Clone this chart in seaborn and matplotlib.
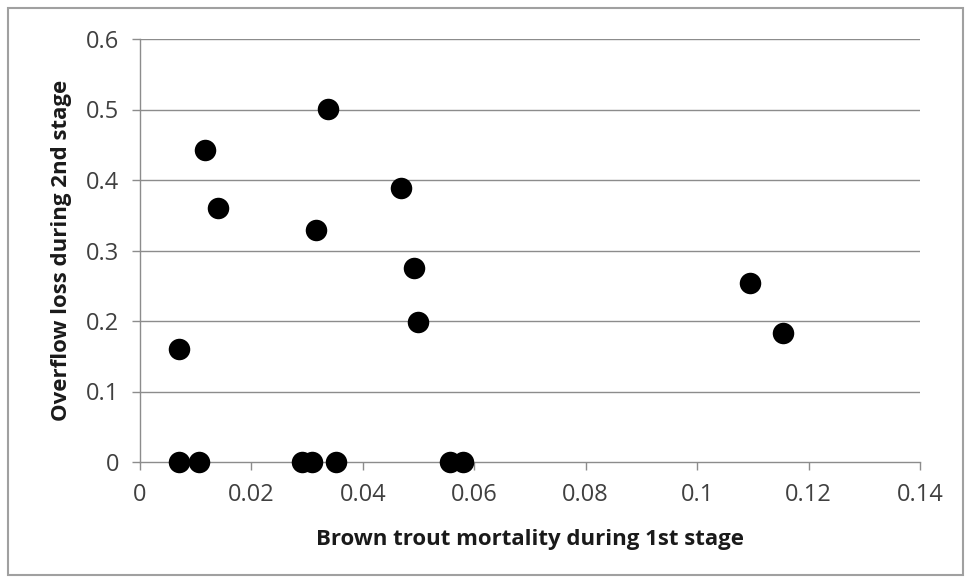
import matplotlib
matplotlib.use('Agg')
import matplotlib.pyplot as plt
import seaborn as sns
import pandas as pd
from matplotlib.patches import Rectangle

# Data
mortality = [0.0070, 0.0117, 0.0140, 0.0316, 0.0337, 0.0468, 0.0492, 0.0499,
             0.1095, 0.1154,
             0.0070, 0.0105, 0.0290, 0.0308, 0.0352, 0.0556, 0.0580]
overflow = [0.160, 0.443, 0.360, 0.329, 0.501, 0.389, 0.275, 0.199,
            0.254, 0.183,
            0.0, 0.0, 0.0, 0.0, 0.0, 0.0, 0.0]

x_ticks = [0, 0.02, 0.04, 0.06, 0.08, 0.1, 0.12, 0.14]
x_labels = ['0', '0.02', '0.04', '0.06', '0.08', '0.1', '0.12', '0.14']
y_ticks = [0, 0.1, 0.2, 0.3, 0.4, 0.5, 0.6]
y_labels = ['0', '0.1', '0.2', '0.3', '0.4', '0.5', '0.6']

df = pd.DataFrame({'mortality': mortality, 'overflow': overflow})

sns.set_style('white')
plt.rcParams['font.family'] = ['Open Sans', 'DejaVu Sans']

fig = plt.figure(figsize=(9.73, 5.82), dpi=100)
ax = fig.add_axes([140 / 973, 1 - 462 / 582, 780 / 973, 423 / 582])

# Frame around the chart area
fig.patches.append(Rectangle((8 / 973, 7 / 582), 955 / 973, 567 / 582,
                             transform=fig.transFigure, fill=False,
                             edgecolor='#a0a0a0', linewidth=1.5))

for y in y_ticks[1:]:
    ax.axhline(y, color='#8c8c8c', linewidth=1, zorder=0)

sns.scatterplot(data=df, x='mortality', y='overflow', ax=ax, s=240,
                color='black', edgecolor='black', linewidth=0, zorder=3,
                clip_on=False)

ax.set_xlim(0, 0.14)
ax.set_ylim(0, 0.6)
ax.set_xticks(x_ticks)
ax.set_xticklabels(x_labels)
ax.set_yticks(y_ticks)
ax.set_yticklabels(y_labels)
ax.tick_params(axis='both', labelsize=17, length=6, width=1, direction='out')
ax.tick_params(axis='x', bottom=True, color='#8c8c8c', labelcolor='#404040',
               pad=9)
ax.tick_params(axis='y', left=True, color='#8c8c8c', labelcolor='#404040',
               pad=9)

for side in ['top', 'right']:
    ax.spines[side].set_visible(False)
for side in ['left', 'bottom']:
    ax.spines[side].set_color('#8c8c8c')
    ax.spines[side].set_linewidth(1)

ax.set_xlabel('Brown trout mortality during 1st stage', fontsize=16,
              fontweight='bold', color='#1a1a1a', labelpad=16)
ax.set_ylabel('Overflow loss during 2nd stage', fontsize=16,
              fontweight='bold', color='#1a1a1a', labelpad=10)

fig.savefig('out.png', dpi=100)
